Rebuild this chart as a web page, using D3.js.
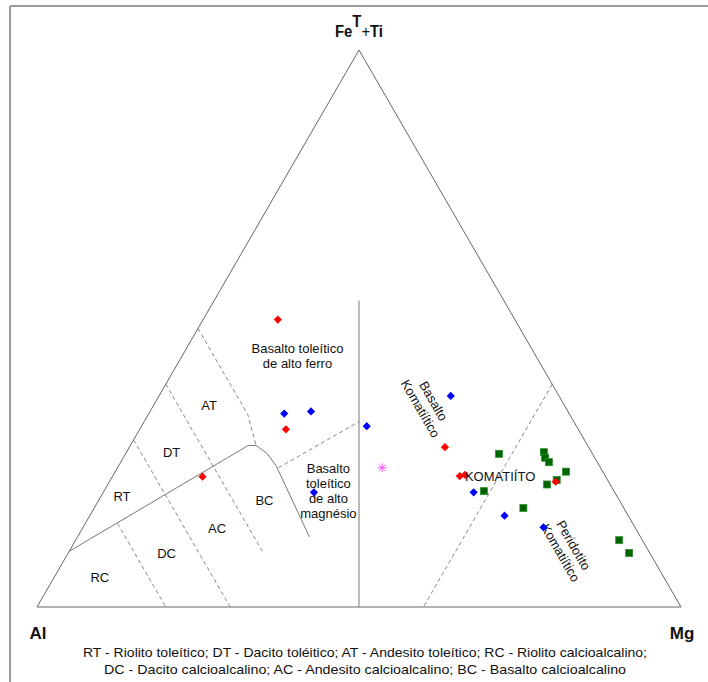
<!DOCTYPE html>
<html>
<head>
<meta charset="utf-8">
<script src="https://cdn.jsdelivr.net/npm/d3@7"></script>
<style>
  body { margin: 0; background: #fff; }
  svg text { font-family: "Liberation Sans", Arial, sans-serif; fill: #111; }
</style>
</head>
<body>
<div id="chart"></div>
<script>
var svgWidth = 708;
var svgHeight = 682;

// triangle placement
var corner = { left: 37, right: 681, top: 50, bottom: 607 };

// all compositions are cation % : [Al, FeT+Ti, Mg]
var redPoints = [
  [36.8, 51.6, 11.6], [45.4, 31.9, 22.7], [62.6, 23.4, 14.0], [22.3, 28.7, 49.0],
  [22.6, 23.5, 53.9], [21.7, 23.7, 54.6], [8.2, 22.5, 69.3]
];
var bluePoints = [
  [44.2, 34.7, 21.0], [39.9, 35.1, 25.0], [46.7, 20.6, 32.7], [32.6, 32.5, 35.0],
  [16.8, 37.9, 45.3], [21.9, 20.6, 57.5], [19.2, 16.4, 64.4], [14.2, 14.3, 71.5]
];
var greenPoints = [
  [14.5, 27.5, 58.0], [7.4, 27.8, 64.8], [7.7, 26.8, 65.5], [7.5, 26.0, 66.5],
  [5.7, 24.3, 70.0], [7.9, 22.8, 69.3], [9.8, 22.0, 68.2], [20.2, 20.8, 59.0],
  [15.6, 17.8, 66.7], [3.6, 12.0, 84.4], [3.2, 9.7, 87.1]
];
var magentaPoints = [[33.9, 25.0, 41.1]];

// field boundaries (Jensen cation plot)
var outline = [[100, 0, 0], [0, 100, 0], [0, 0, 100], [100, 0, 0]];
var solidLines = [
  [[22.5, 55, 22.5], [50, 0, 50]],
  [[90, 10, 0], [52.7, 29, 18.3], [51.5, 29, 19.5], [50.5, 27.6, 21.9],
   [50.2, 25.2, 24.6], [51.4, 12.6, 36]]
];
var dashedLines = [
  [[70, 30, 0], [70, 0, 30]],
  [[80, 15, 5], [80, 0, 20]],
  [[60, 40, 0], [60, 10, 30]],
  [[50, 50, 0], [50, 34.5, 15.5], [51.5, 29, 19.5]],
  [[50, 25, 25], [33.3, 33.3, 33.4]],
  [[0, 40, 60], [40, 0, 60]]
];

var fieldLabels = [
  { text: ["AT"], at: [55.1, 36.2, 8.6] },
  { text: ["DT"], at: [65.2, 27.8, 7.0] },
  { text: ["RT"], at: [77.0, 19.8, 3.3] },
  { text: ["BC"], at: [55.2, 19.1, 25.8] },
  { text: ["AC"], at: [65.0, 14.1, 20.9] },
  { text: ["DC"], at: [75.0, 9.6, 15.3] },
  { text: ["RC"], at: [87.6, 5.3, 7.1] },
  { text: ["Basalto toleítico", "de alto ferro"], at: [37.0, 45.1, 17.9] },
  { text: ["Basalto", "toleítico", "de alto", "magnésio"], at: [44.3, 20.9, 34.8] },
  { text: ["Basalto", "Komatiítico"], at: [21.3, 36.3, 42.4], rotate: 60 },
  { text: ["Peridotito", "Komatiítico"], at: [12.5, 10.4, 77.1], rotate: 60 }
];

var captionLines = [
  "RT - Riolito toleítico; DT - Dacito toléitico; AT - Andesito toleítico; RC - Riolito calcioalcalino;",
  "DC - Dacito calcioalcalino; AC - Andesito calcioalcalino; BC - Basalto calcioalcalino"
];

var svg = d3.select("#chart")
  .append("svg")
  .attr("width", svgWidth)
  .attr("height", svgHeight);

// cartesian scales for the ternary projection
var xScale = d3.scaleLinear().domain([0, 1]).range([corner.left, corner.right]);
var yScale = d3.scaleLinear().domain([0, Math.sqrt(3) / 2]).range([corner.bottom, corner.top]);

function project(d) {
  var sum = d[0] + d[1] + d[2];
  var fe = d[1] / sum, mg = d[2] / sum;
  return [xScale(mg + fe / 2), yScale(fe * Math.sqrt(3) / 2)];
}

var line = d3.line().x(d => project(d)[0]).y(d => project(d)[1]);

// frame
svg.append("line").attr("x1", 10).attr("y1", 6).attr("x2", svgWidth).attr("y2", 6)
  .attr("stroke", "#9a9a9a").attr("stroke-width", 2);
svg.append("line").attr("x1", 10).attr("y1", 6).attr("x2", 10).attr("y2", svgHeight)
  .attr("stroke", "#9a9a9a").attr("stroke-width", 2);

var plot = svg.append("g");

plot.append("path").datum(outline).attr("d", line)
  .attr("fill", "none").attr("stroke", "#666").attr("stroke-width", 1);

plot.selectAll(".solid").data(solidLines).enter().append("path")
  .attr("class", "solid").attr("d", line)
  .attr("fill", "none").attr("stroke", "#777").attr("stroke-width", 1);

plot.selectAll(".dash").data(dashedLines).enter().append("path")
  .attr("class", "dash").attr("d", line)
  .attr("fill", "none").attr("stroke", "#888").attr("stroke-width", 1)
  .attr("stroke-dasharray", "4,3");

// field names
fieldLabels.forEach(function(lab) {
  var p = project(lab.at);
  var g = plot.append("g")
    .attr("transform", `translate(${p[0]},${p[1]}) rotate(${lab.rotate || 0})`);
  var lh = 15;
  var t = g.append("text").attr("text-anchor", "middle").style("font-size", "13px");
  lab.text.forEach(function(s, i) {
    t.append("tspan").attr("x", 0)
      .attr("y", (i - (lab.text.length - 1) / 2) * lh + 4.5)
      .text(s);
  });
});

// data points
var diamond = d3.symbol().type(d3.symbolSquare).size(34);

plot.selectAll(".blue").data(bluePoints).enter().append("path")
  .attr("class", "blue").attr("d", diamond)
  .attr("transform", d => `translate(${project(d)[0]},${project(d)[1]}) rotate(45)`)
  .attr("fill", "#0000ff");

plot.selectAll(".green").data(greenPoints).enter().append("rect")
  .attr("class", "green")
  .attr("x", d => project(d)[0] - 3.5).attr("y", d => project(d)[1] - 3.5)
  .attr("width", 7).attr("height", 7)
  .attr("fill", "#006400").attr("stroke", "#2f8f2f").attr("stroke-width", 0.8);

plot.selectAll(".red").data(redPoints).enter().append("path")
  .attr("class", "red").attr("d", diamond)
  .attr("transform", d => `translate(${project(d)[0]},${project(d)[1]}) rotate(45)`)
  .attr("fill", "#ff0000");

function asterisk(r) {
  var p = d3.path(), k = r * Math.SQRT1_2;
  p.moveTo(-r, 0); p.lineTo(r, 0);
  p.moveTo(0, -r); p.lineTo(0, r);
  p.moveTo(-k, -k); p.lineTo(k, k);
  p.moveTo(-k, k); p.lineTo(k, -k);
  return p.toString();
}

plot.selectAll(".star").data(magentaPoints).enter().append("path")
  .attr("class", "star").attr("d", asterisk(4.5))
  .attr("transform", d => `translate(${project(d)[0]},${project(d)[1]})`)
  .attr("fill", "none").attr("stroke", "#ff55ff").attr("stroke-width", 1);

// KOMATIÍTO label sits on top of the points
var kp = project([21.8, 23.5, 54.7]);
plot.append("text").attr("x", kp[0]).attr("y", kp[1] + 4.5)
  .style("font-size", "13px").text("KOMATIÍTO");

// corner labels
var apex = project([0, 100, 0]);
var apexLabel = svg.append("text").attr("x", apex[0]).attr("y", 37)
  .attr("text-anchor", "middle").attr("textLength", 48).attr("lengthAdjust", "spacingAndGlyphs")
  .style("font-size", "16px").style("font-weight", "bold");
apexLabel.append("tspan").text("Fe");
apexLabel.append("tspan").attr("dy", -10).text("T");
apexLabel.append("tspan").attr("dy", 10).style("font-weight", "normal").text("+");
apexLabel.append("tspan").text("Ti");

svg.append("text").attr("x", 38).attr("y", 639).attr("text-anchor", "middle")
  .style("font-size", "17px").style("font-weight", "bold").text("Al");
svg.append("text").attr("x", 682).attr("y", 639).attr("text-anchor", "middle")
  .style("font-size", "17px").style("font-weight", "bold").text("Mg");

// caption
svg.selectAll(".caption").data(captionLines).enter().append("text")
  .attr("class", "caption")
  .attr("x", 365).attr("y", (d, i) => 657 + i * 17)
  .attr("text-anchor", "middle")
  .attr("textLength", (d, i) => i === 0 ? 564 : 522)
  .attr("lengthAdjust", "spacingAndGlyphs")
  .style("font-size", "13.5px")
  .text(d => d);
</script>
</body>
</html>
